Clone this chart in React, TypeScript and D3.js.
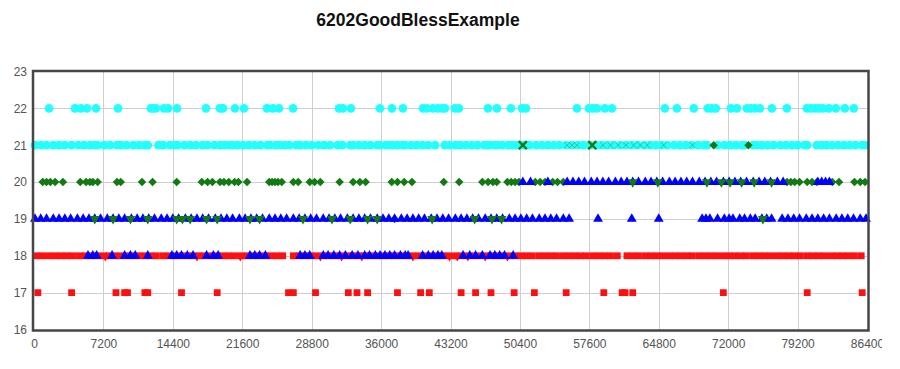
import React, { useEffect, useRef } from 'react';
import * as d3 from 'd3';

// x is seconds of the day, y is the level each mark sits on
const xTicks = [0, 7200, 14400, 21600, 28800, 36000, 43200, 50400, 57600, 64800, 72000, 79200, 86400];
const yTicks = [16, 17, 18, 19, 20, 21, 22, 23];

const cyanCircles22 = [1560, 4250, 4870, 5500, 6430, 8710, 12130, 12340, 12650, 13480, 13900, 14830, 17840, 19290, 19600, 20840, 21780, 24160, 24780, 25410, 26860, 31630, 32040, 32870, 35880, 37120, 38270, 40340, 40750, 41380, 41890, 42310, 42620, 43660, 44070, 47080, 48010, 49460, 50610, 51020, 56310, 57550, 57970, 58380, 59210, 59940, 65430, 66680, 68440, 69890, 70310, 70720, 72280, 72900, 73940, 74350, 74770, 75290, 76530, 78090, 80160, 80570, 80990, 81400, 81820, 82440, 83170, 84100, 85030];

const cyanCircles21 = [100, 700, 1300, 2000, 2600, 3200, 3900, 4600, 5200, 5800, 6300, 6600, 7300, 7900, 8600, 9000, 9600, 10300, 10900, 11500, 11800, 12900, 13400, 14100, 14600, 14900, 15600, 16200, 16800, 17500, 18000, 18700, 19300, 19800, 20300, 20600, 21100, 21700, 22300, 22900, 23500, 24200, 24500, 25100, 25500, 26000, 26500, 27200, 27600, 28200, 28800, 29500, 30100, 30700, 31500, 32000, 32800, 33100, 33700, 34300, 34900, 35600, 35900, 36500, 36900, 37200, 37700, 38200, 38500, 39100, 39700, 40300, 40900, 41600, 42600, 43100, 43700, 44200, 44800, 45400, 46000, 46700, 47000, 47300, 47800, 48100, 48600, 49200, 49600, 50000, 50400, 50800, 51400, 52100, 52700, 53300, 53900, 54500, 55200, 55800, 56400, 57000, 57700, 58300, 58900, 59500, 60100, 60800, 61400, 62000, 62600, 63300, 63900, 64500, 65100, 65700, 66400, 67000, 67600, 68200, 68900, 69500, 69800, 70900, 71600, 72200, 72800, 73400, 73700, 74600, 75000, 75500, 76100, 76700, 77400, 78000, 78600, 79200, 79900, 80200, 81200, 81700, 82200, 82800, 83400, 84000, 84600, 85200, 85900, 86200];

const greenDiamonds20 = [900, 1300, 1700, 2200, 3000, 4800, 5400, 5800, 6100, 6600, 8600, 9000, 11200, 12300, 14800, 17400, 18000, 18500, 19300, 19700, 20200, 20800, 21200, 22100, 24400, 24700, 25000, 25300, 25700, 26900, 27400, 28600, 29100, 29700, 31700, 33100, 33800, 34400, 37100, 37700, 38400, 39200, 42500, 44100, 46500, 47100, 47600, 48000, 49100, 49500, 49900, 50300, 52000, 52500, 53000, 53800, 54300, 54900, 78100, 78500, 78900, 79400, 80200, 80700, 81200, 82800, 83500, 85100, 85700, 86200];
const greenDiamonds21 = [70500, 74100];
const greenDiamonds19 = [37400];

const greenCrosses21 = [50700, 57900];
const greenCrossesFaint21 = [55300, 55800, 56300, 59000, 59800, 60600, 61400, 62200, 62900, 63600, 65300, 68300];

const blueTriangles20 = [50700, 51500, 53300, 55300, 55900, 56500, 57100, 57800, 58400, 59000, 59600, 60300, 60900, 61500, 62100, 62700, 63400, 64000, 64600, 65200, 65900, 66500, 67100, 67700, 68300, 69000, 69600, 70200, 70800, 71500, 72100, 72700, 73300, 73900, 74600, 75200, 75800, 76400, 77100, 77700, 81300, 81700, 82100, 82500];

const blueTriangles19 = [100, 700, 1300, 2000, 2600, 3200, 3800, 4500, 5100, 5700, 6300, 6900, 7600, 8200, 8800, 9400, 10100, 10700, 11300, 11900, 12500, 13200, 13800, 14400, 15000, 15700, 16300, 16900, 17500, 18100, 18800, 19400, 20000, 20600, 21300, 21900, 22500, 23100, 23700, 24400, 25000, 25600, 26200, 26900, 27500, 28100, 28700, 29300, 30000, 30600, 31200, 31800, 32500, 33100, 33700, 34300, 34900, 35600, 36200, 36800, 37400, 38100, 38700, 39300, 39900, 40500, 41200, 41800, 42400, 43000, 43700, 44300, 44900, 45500, 46100, 46800, 47400, 48000, 48600, 49300, 49900, 50500, 51100, 51700, 52400, 53000, 53600, 54200, 54900, 55500, 58500, 62000, 64800, 69300, 69700, 70100, 70900, 71600, 72100, 72500, 73200, 73700, 74300, 74800, 75500, 76000, 76500, 77600, 78200, 78800, 79400, 80100, 80700, 81300, 81900, 82500, 83200, 83800, 84400, 85000, 85700, 86300];

const blueTriangles18 = [5600, 6100, 6500, 8100, 9400, 10000, 10500, 11800, 14300, 14800, 15300, 15900, 16500, 17900, 18600, 19100, 22400, 22900, 23400, 24000, 27600, 28100, 28600, 30000, 30500, 31100, 31700, 32300, 33000, 33600, 34300, 34800, 35400, 35900, 36400, 36900, 37400, 38000, 38500, 38800, 40300, 40900, 41400, 41900, 42300, 44500, 45200, 45800, 46500, 47300, 47800, 48300, 48800, 49700];

const greenDown20 = [62100, 64700, 69800, 71300, 72200, 73400, 74700, 76500];
const greenDown19 = [6300, 8200, 10000, 11800, 14800, 15400, 16200, 17900, 19000, 22400, 23400, 27900, 30900, 32800, 34600, 35600, 41300, 45700, 47500, 48500, 75600];

const redSquares18 = [300, 900, 1600, 2200, 2800, 3400, 4000, 4700, 5300, 5900, 6500, 7200, 7800, 8400, 9000, 9600, 10300, 10900, 11500, 12100, 12700, 13400, 14000, 14600, 15200, 15900, 16500, 17100, 17700, 18400, 19000, 19600, 20200, 20800, 21500, 22100, 22700, 23300, 24000, 24600, 25200, 25800, 26900, 27500, 28100, 28700, 29300, 30000, 30600, 31200, 31800, 32500, 33100, 33700, 34300, 34900, 35600, 36200, 36800, 37400, 38100, 38700, 39300, 39900, 40500, 41200, 41800, 42400, 43000, 43700, 44300, 44900, 45500, 46100, 46800, 47400, 48000, 48600, 49300, 49900, 50500, 51100, 51700, 52400, 53000, 53600, 54200, 54900, 55500, 56100, 56700, 57300, 58000, 58600, 59200, 59800, 60500, 61500, 62100, 62700, 63400, 64000, 64600, 65200, 65900, 66500, 67100, 67700, 68300, 69000, 69600, 70200, 70800, 71500, 72100, 72700, 73300, 73900, 74600, 75200, 75800, 76400, 77100, 77700, 78300, 78900, 79500, 80200, 80800, 81400, 82000, 82700, 83300, 83900, 84500, 85100, 85800];
const redDown18 = [7400, 16900, 21400, 29700, 31900, 34000, 39300, 43100, 43900, 45000, 46800, 49100];
const redSquares17 = [400, 3900, 8500, 9400, 9700, 11500, 11800, 15300, 19000, 26400, 26900, 29200, 32600, 33500, 34600, 37700, 40100, 41000, 44300, 45800, 47400, 49800, 51900, 55200, 59100, 61000, 61300, 62100, 71500, 80200, 85900];

const W = 874
const H = 355
const margin = { left: 26, right: 15, top: 63.5, bottom: 33.5 }
const font = '"Liberation Sans", Arial, Helvetica, sans-serif'

export default function App() {
    const ref = useRef<SVGSVGElement>(null)

    useEffect(() => {
        const svg = d3.select(ref.current)
        svg.selectAll('*').remove()

        const x = d3.scaleLinear().domain([0, 86400]).range([margin.left, W - margin.right])
        const y = d3.scaleLinear().domain([16, 23]).range([H - margin.bottom, margin.top])

        svg.append('text')
            .attr('x', 410).attr('y', 18)
            .attr('text-anchor', 'middle')
            .style('font-family', font).style('font-weight', 'bold').style('font-size', '17.5px')
            .attr('fill', '#111')
            .text('6202GoodBlessExample')

        // grid
        const grid = svg.append('g').attr('stroke', '#cfcfcf').attr('stroke-width', 1)
        grid.selectAll('line.v').data(xTicks.slice(1, -1)).join('line')
            .attr('x1', d => Math.round(x(d)) + 0.5).attr('x2', d => Math.round(x(d)) + 0.5)
            .attr('y1', y(23)).attr('y2', y(16))
        grid.selectAll('line.h').data(yTicks.slice(1, -1)).join('line')
            .attr('y1', d => Math.round(y(d)) + 0.5).attr('y2', d => Math.round(y(d)) + 0.5)
            .attr('x1', x(0)).attr('x2', x(86400))

        // tick labels (the last one runs past the edge, as in the original)
        const xAxis = d3.axisBottom(x).tickValues(xTicks).tickSize(0).tickPadding(9).tickFormat(d3.format('d'))
        const gx = svg.append('g').attr('transform', `translate(0,${y(16) + 1})`).call(xAxis)
        const yAxis = d3.axisLeft(y).tickValues(yTicks).tickSize(0).tickPadding(5).tickFormat(d3.format('d'))
        const gy = svg.append('g').attr('transform', `translate(${x(0) - 2},0)`).call(yAxis)
        for (const g of [gx, gy]) {
            g.select('.domain').remove()
            g.selectAll('text').attr('fill', '#545454').style('font-family', font).style('font-size', '12px')
        }

        const plot = svg.append('g')
        const sym = (type: d3.SymbolType, size: number) => d3.symbol().type(type).size(size)()!

        const draw = (xs: number[], level: number, shape: string, fill: string, rot = 0, extra?: (s: any) => void) => {
            const sel = plot.append('g').selectAll('path').data(xs).join('path')
                .attr('d', shape)
                .attr('transform', d => `translate(${x(d)},${y(level)}) rotate(${rot})`)
                .attr('fill', fill)
            if (extra) extra(sel)
            return sel
        }

        const circle = sym(d3.symbolCircle, 60)
        const diamond = sym(d3.symbolSquare, 36)
        const tri = sym(d3.symbolTriangle, 42)
        const square = sym(d3.symbolSquare, 46)
        const cross = sym(d3.symbolTimes, 44)
        const smallCross = sym(d3.symbolTimes, 26)

        const cyan = '#22ffff'
        const green = '#137a13'
        const blue = '#0000ff'
        const red = '#ff0f0f'

        draw(cyanCircles22, 22, circle, cyan)
        draw(cyanCircles21, 21, circle, cyan)
        draw(greenDiamonds20, 20, diamond, green, 45)
        draw(greenDiamonds21, 21, diamond, green, 45)
        draw(greenDiamonds19, 19, diamond, green, 45)
        draw(redSquares18, 18, square, red)
        draw(redDown18, 18, tri, red, 180)
        draw(redSquares17, 17, square, red)
        draw(blueTriangles18, 18, tri, blue)
        draw(blueTriangles19, 19, tri, blue)
        draw(blueTriangles20, 20, tri, blue)
        draw(greenDown19, 19, tri, green, 180)
        draw(greenDown20, 20, tri, green, 180)
        draw(greenCrosses21, 21, cross, 'none', 0, s => s.attr('stroke', green).attr('stroke-width', 2.4))
        draw(greenCrossesFaint21, 21, smallCross, 'none', 0, s => s.attr('stroke', green).attr('stroke-width', 1).attr('opacity', 0.4))

        // frame
        svg.append('rect')
            .attr('x', x(0) - 1).attr('y', y(23) - 0.5)
            .attr('width', x(86400) - x(0) + 2.5).attr('height', y(16) - y(23) + 1.5)
            .attr('fill', 'none').attr('stroke', '#464646').attr('stroke-width', 2.5)
    }, [])

    return (
        <div>
            <svg ref={ref} width={W} height={H} style={{ display: 'block', overflow: 'hidden' }}></svg>
        </div>
    )
}
